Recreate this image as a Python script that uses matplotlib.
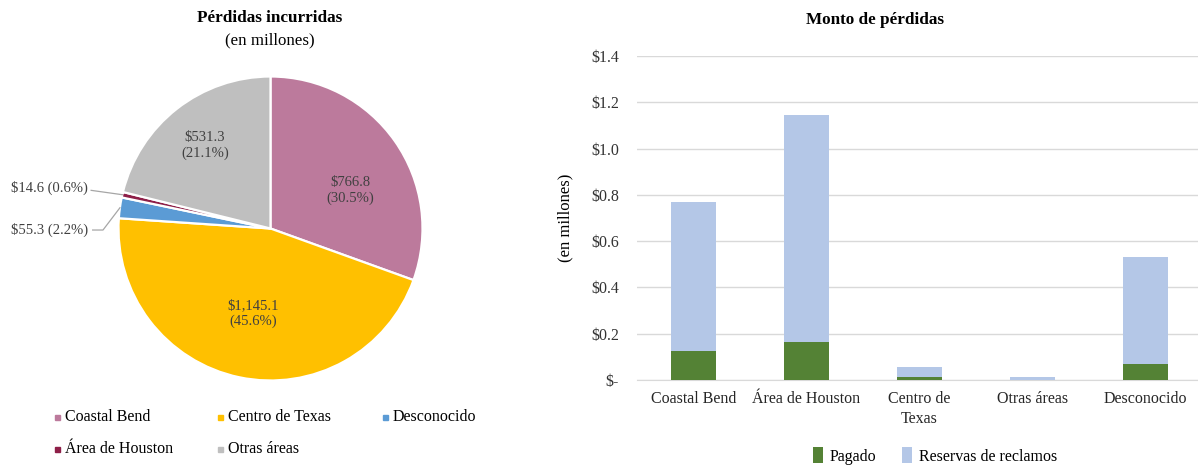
import matplotlib
matplotlib.use("Agg")
import numpy as np
import matplotlib.pyplot as plt
from matplotlib.patches import Rectangle

plt.rcParams['font.family'] = ['Liberation Serif', 'DejaVu Serif']

# pie: losses incurred by region (millions)
pie_regions = ['Coastal Bend', 'Centro de Texas', 'Desconocido', 'Área de Houston', 'Otras áreas']
pie_values  = [766.8, 1145.1, 55.3, 14.6, 531.3]
pie_colors  = ['#BC7A9C', '#FFC000', '#5B9BD5', '#8E1F48', '#BFBFBF']

# bars: paid vs reserves
bar_regions  = ['Coastal Bend', 'Área de Houston', 'Centro de\nTexas', 'Otras áreas', 'Desconocido']
paid         = [0.125, 0.165, 0.013, 0.001, 0.070]
reserves     = [0.642, 0.980, 0.042, 0.0136, 0.461]
y_ticks      = [0.0, 0.2, 0.4, 0.6, 0.8, 1.0, 1.2, 1.4]
y_ticklabels = ['$-', '$0.2', '$0.4', '$0.6', '$0.8', '$1.0', '$1.2', '$1.4']

TEXT = '#404040'
W, H = 1198, 465

fig = plt.figure(figsize=(W / 100, H / 100), dpi=100)

# ---------------- pie ----------------
ax1 = fig.add_axes([(270.5 - 152) / W, (H - 228.5 - 152) / H, 304 / W, 304 / H])
wedges, _ = ax1.pie(pie_values, colors=pie_colors, startangle=90, counterclock=False,
                    wedgeprops=dict(edgecolor='white', linewidth=1.6))
ax1.set_xlim(-1, 1)
ax1.set_ylim(-1, 1)

total = sum(pie_values)
pcts = [v / total * 100 for v in pie_values]

# inner labels for the big slices
inner_pos = {0: (0.523, 0.247), 1: (-0.115, -0.562), 4: (-0.431, 0.549)}
for i, (x, y) in inner_pos.items():
    ax1.text(x, y, '${:,.1f}\n({:.1f}%)'.format(pie_values[i], pcts[i]),
             ha='center', va='center', fontsize=10.5, color=TEXT, linespacing=1.25)

# outside labels with leader lines for the thin slices
outer = {3: (-1.2, 0.266, None), 2: (-1.2, -0.01, -1.102)}
for i, (tx, ty, elbow) in outer.items():
    w = wedges[i]
    ang = np.deg2rad((w.theta1 + w.theta2) / 2)
    ex, ey = np.cos(ang), np.sin(ang)
    ax1.text(tx, ty, '${:.1f} ({:.1f}%)'.format(pie_values[i], pcts[i]),
             ha='right', va='center', fontsize=10.5, color=TEXT)
    if elbow is None:
        xs, ys = [tx + 0.02, ex], [ty - 0.015, ey]
    else:
        xs, ys = [tx + 0.03, elbow, ex], [ty, ty, ey]
    ax1.plot(xs, ys, color='#A6A6A6', lw=0.9, clip_on=False)

fig.text(270 / W, 1 - 18 / H, 'Pérdidas incurridas', ha='center', va='center',
         fontsize=12.3, fontweight='bold')
fig.text(270 / W, 1 - 40 / H, '(en millones)', ha='center', va='center', fontsize=12.2)

# pie legend, two rows
legend_slots = [(0, 57, 417), (1, 220, 417), (2, 385, 417), (3, 57, 449), (4, 220, 449)]
for i, px, py in legend_slots:
    fig.add_artist(Rectangle(((px - 2.5) / W, 1 - (py + 2.5) / H), 5 / W, 5 / H,
                             transform=fig.transFigure, color=pie_colors[i]))
    fig.text((px + 8) / W, 1 - py / H, pie_regions[i], ha='left', va='center',
             fontsize=11.5, color='black')

# ---------------- stacked bars ----------------
ax2 = fig.add_axes([637 / W, (H - 380) / H, 565 / W, 324 / H])
x = np.arange(len(bar_regions))
ax2.bar(x, paid, width=0.4, color='#548235', label='Pagado', zorder=3)
ax2.bar(x, reserves, width=0.4, bottom=paid, color='#B4C7E7',
        label='Reservas de reclamos', zorder=3)
ax2.set_xlim(-0.5, len(bar_regions) - 0.5)
ax2.set_ylim(0, 1.4)
ax2.set_yticks(y_ticks)
ax2.set_yticklabels(y_ticklabels)
ax2.set_xticks(x)
ax2.set_xticklabels(bar_regions, linespacing=1.3)
ax2.tick_params(axis='y', length=0, pad=13, labelsize=11.5, labelcolor='#333333')
ax2.tick_params(axis='x', length=0, pad=8, labelsize=11.5, labelcolor='#262626')
ax2.grid(axis='y', color='#D9D9D9', lw=1, zorder=0)
for s in ['top', 'right', 'left']:
    ax2.spines[s].set_visible(False)
ax2.spines['bottom'].set_color('#D9D9D9')
ax2.set_ylabel('(en millones)', fontsize=12)
ax2.yaxis.set_label_coords(-64 / 565, 0.5)

fig.text(875 / W, 1 - 20 / H, 'Monto de pérdidas', ha='center', va='center',
         fontsize=12.3, fontweight='bold')
fig.legend(loc='center', bbox_to_anchor=(935 / W, 1 - 456 / H), ncol=2, frameon=False,
           fontsize=11.5, handlelength=0.65, handleheight=1.1, handletextpad=0.4,
           columnspacing=1.6)

fig.savefig('out.png', dpi=100)
